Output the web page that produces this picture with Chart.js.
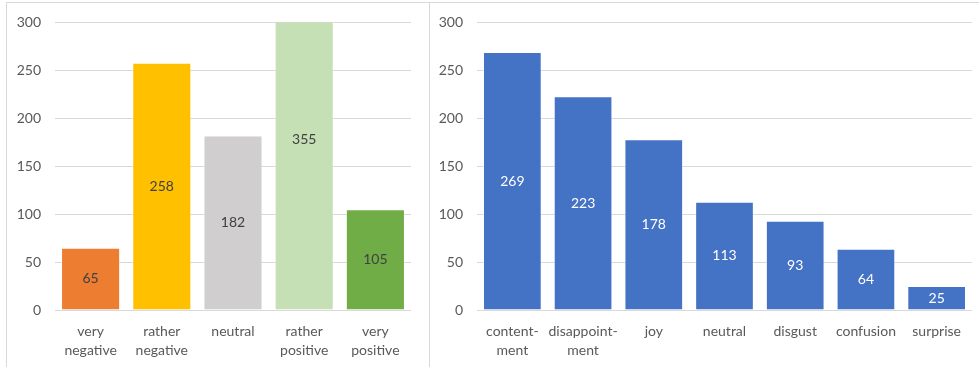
<!DOCTYPE html>
<html>
<head>
<meta charset="utf-8">
<script src="https://cdn.jsdelivr.net/npm/chart.js@4/dist/chart.umd.min.js"></script>
<style>
  html, body { margin: 0; padding: 0; background: #fff; }
  body { width: 979px; height: 367px; position: relative; overflow: hidden; }
  .panel { position: absolute; top: 2px; height: 380px; border-top: 1px solid #d9d9d9; border-left: 1px solid #d9d9d9; }
  #leftPanel { left: 6px; width: 423px; }
  #rightPanel { left: 429px; width: 560px; }
  canvas { position: absolute; top: 0; }
  #sentimentChart { left: 0; }
  #emotionChart { left: 429px; }
</style>
</head>
<body>
<div class="panel" id="leftPanel"></div>
<div class="panel" id="rightPanel"></div>
<canvas id="sentimentChart" width="429" height="367"></canvas>
<canvas id="emotionChart" width="550" height="367"></canvas>
<script>
// sentiment counts
const sentimentLabels = [['very', 'negative'], ['rather', 'negative'], 'neutral', ['rather', 'positive'], ['very', 'positive']];
const sentimentValues = [65, 258, 182, 355, 105];
const sentimentColors = ['#ED7D31', '#FFC000', '#D0CECE', '#C5E0B4', '#70AD47'];

// emotion counts
const emotionLabels = [['content-', 'ment'], ['disappoint-', 'ment'], 'joy', 'neutral', 'disgust', 'confusion', 'surprise'];
const emotionValues = [269, 223, 178, 113, 93, 64, 25];

const yTicks = [0, 50, 100, 150, 200, 250, 300];

const FONT = 'Lato, "Open Sans", sans-serif';

// value printed in the middle of each bar (middle of the full value, even if clipped)
const barValueLabels = {
  id: 'barValueLabels',
  afterDatasetsDraw(chart, args, opts) {
    const ctx = chart.ctx;
    const yScale = chart.scales.y;
    const ds = chart.data.datasets[0];
    const meta = chart.getDatasetMeta(0);
    ctx.save();
    ctx.font = '14px ' + FONT;
    ctx.fillStyle = opts.color;
    ctx.textAlign = 'center';
    ctx.textBaseline = 'middle';
    meta.data.forEach((bar, i) => {
      const v = ds.data[i];
      ctx.fillText(String(v), bar.x, yScale.getPixelForValue(v / 2));
    });
    ctx.restore();
  }
};

function makeChart(id, labels, values, colors, labelColor, yWidth, padRight) {
  return new Chart(document.getElementById(id), {
    type: 'bar',
    data: {
      labels: labels,
      datasets: [{
        data: values,
        backgroundColor: colors,
        borderColor: 'rgba(255,255,255,0.45)',
        borderWidth: 1,
        categoryPercentage: 1,
        barPercentage: 0.83
      }]
    },
    options: {
      responsive: false,
      animation: false,
      layout: { padding: { top: 20, right: padRight, left: 0, bottom: 0 } },
      plugins: {
        legend: { display: false },
        tooltip: { enabled: false },
        barValueLabels: { color: labelColor }
      },
      scales: {
        x: {
          grid: { display: false, drawTicks: false },
          border: { display: false },
          ticks: { color: '#595959', font: { family: FONT, size: 14, lineHeight: 1.35 }, padding: 12, maxRotation: 0, autoSkip: false },
          afterFit(scale) { scale.height = 57; }
        },
        y: {
          min: 0,
          max: 300,
          afterBuildTicks(scale) { scale.ticks = yTicks.map(v => ({ value: v })); },
          grid: { color: '#d9d9d9', lineWidth: 1, drawTicks: false },
          border: { display: false },
          ticks: { color: '#595959', font: { family: FONT, size: 14 }, padding: 14 },
          afterFit(scale) { scale.width = yWidth; }
        }
      }
    },
    plugins: [barValueLabels]
  });
}

makeChart('sentimentChart', sentimentLabels, sentimentValues, sentimentColors, '#404040', 55, 18);
makeChart('emotionChart', emotionLabels, emotionValues, '#4472C4', '#ffffff', 48, 7);
</script>
</body>
</html>
